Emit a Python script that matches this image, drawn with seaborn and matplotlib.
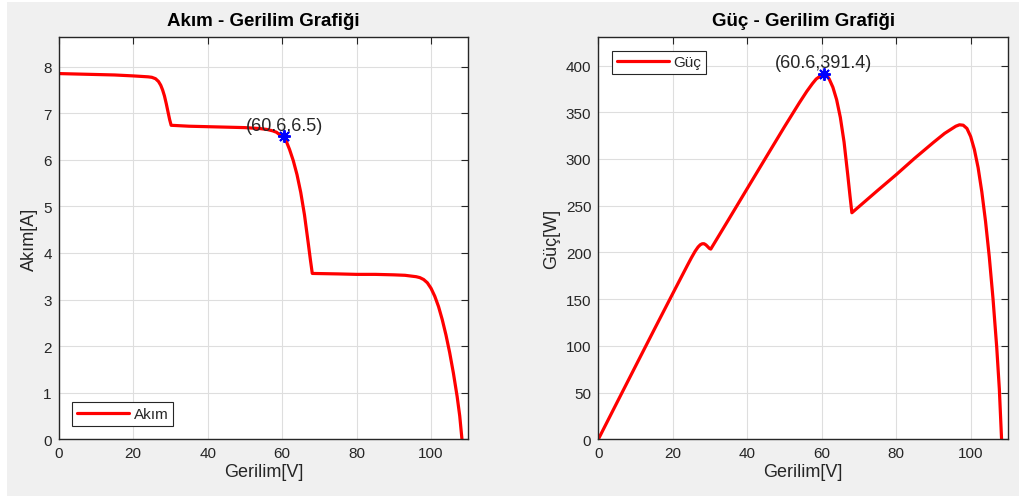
import numpy as np
import pandas as pd
import matplotlib
matplotlib.use("Agg")
import matplotlib.pyplot as plt
from matplotlib.patches import Rectangle
import seaborn as sns

# Measured I-V characteristic of a partially shaded PV string
voltage = [0, 5, 10, 15, 20, 24, 25, 26, 26.8, 27.4, 27.9, 28.4, 28.9, 29.4, 29.8, 30.2,
           35, 40, 45, 50, 54, 56, 57.5, 58.5, 59.3, 60, 60.6, 61.2, 62, 63, 64, 65,
           66, 67, 67.6, 68.1, 75, 80, 85, 90, 93, 95, 96, 97, 98, 99, 100, 101, 102,
           103, 104, 105, 106, 107, 107.7, 108.3]
current = [7.85, 7.84, 7.83, 7.82, 7.80, 7.78, 7.77, 7.74, 7.68, 7.60, 7.50, 7.37, 7.20,
           7.01, 6.86, 6.74, 6.72, 6.71, 6.70, 6.69, 6.67, 6.65, 6.62, 6.59, 6.54, 6.50,
           6.46, 6.38, 6.22, 5.98, 5.68, 5.30, 4.82, 4.22, 3.85, 3.56, 3.55, 3.54, 3.54,
           3.53, 3.52, 3.50, 3.49, 3.47, 3.43, 3.36, 3.24, 3.07, 2.85, 2.57, 2.24, 1.86,
           1.42, 0.92, 0.50, 0.0]

# Maximum power point
mpp_v = 60.6
mpp_i = 6.5
mpp_p = 391.4

x_ticks = [0, 20, 40, 60, 80, 100]
i_ticks = [0, 1, 2, 3, 4, 5, 6, 7, 8]
p_ticks = [0, 50, 100, 150, 200, 250, 300, 350, 400]

df = pd.DataFrame({"V": voltage, "I": current})
df["P"] = df["V"] * df["I"]

sns.set_theme(style="white")
plt.rcParams["font.family"] = ["Liberation Sans", "DejaVu Sans"]

ink = "#262626"
fig = plt.figure(figsize=(10.19, 5.02), dpi=100, facecolor="white")
fig.patches.append(Rectangle((7 / 1019, 5 / 502), 1 - 7 / 1019, 1 - 8 / 502,
                             transform=fig.transFigure, facecolor="#f0f0f0",
                             edgecolor="none", zorder=-10))

ax1 = fig.add_axes([58.7 / 1019, 1 - 440.3 / 502, 409.6 / 1019, 402.3 / 502])
ax2 = fig.add_axes([598.3 / 1019, 1 - 440.3 / 502, 409.6 / 1019, 402.3 / 502])

asterisk = (8, 2, 0)

sns.lineplot(data=df, x="V", y="I", ax=ax1, color="red", lw=2.3, sort=False,
             estimator=None, label="Akım")
ax1.plot([mpp_v], [mpp_i], marker=asterisk, color="blue", ms=9, mew=1.4,
         ls="none", zorder=5)
ax1.text(mpp_v, mpp_i + 0.05, f"({mpp_v},{mpp_i})", ha="center", va="bottom",
         fontsize=13, color=ink)

sns.lineplot(data=df, x="V", y="P", ax=ax2, color="red", lw=2.3, sort=False,
             estimator=None, label="Güç")
ax2.plot([mpp_v], [mpp_p], marker=asterisk, color="blue", ms=9, mew=1.4,
         ls="none", zorder=5)
ax2.text(mpp_v, mpp_p + 3, f"({mpp_v},{mpp_p})", ha="center", va="bottom",
         fontsize=13, color=ink)

panels = [
    (ax1, "Akım - Gerilim Grafiği", "Akım[A]", i_ticks, 1.1 * max(current), "lower left"),
    (ax2, "Güç - Gerilim Grafiği", "Güç[W]", p_ticks, 1.1 * mpp_p, "upper left"),
]
for ax, title, ylabel, yt, ytop, loc in panels:
    ax.set_facecolor("white")
    ax.set_xlim(0, 110)
    ax.set_ylim(0, ytop)
    ax.set_xticks(x_ticks)
    ax.set_yticks(yt)
    ax.grid(True, color="#dedede", lw=0.8)
    ax.set_axisbelow(True)
    for s in ax.spines.values():
        s.set_color(ink)
        s.set_linewidth(1.0)
    ax.tick_params(direction="in", length=5, width=0.8, colors=ink, labelsize=11,
                   top=True, right=True, pad=5)
    ax.set_title(title, fontsize=13.5, fontweight="bold", color="black", pad=9)
    ax.set_xlabel("Gerilim[V]", fontsize=13, color=ink, labelpad=2)
    ax.set_ylabel(ylabel, fontsize=13, color=ink, labelpad=4)
    leg = ax.legend(loc=loc, fontsize=11, frameon=True, fancybox=False,
                    edgecolor=ink, handlelength=3.4, borderpad=0.3,
                    borderaxespad=0.9, handletextpad=0.3)
    leg.get_frame().set_linewidth(0.8)
    leg.get_frame().set_alpha(1)

fig.savefig("out.png", dpi=100, facecolor=fig.get_facecolor())
